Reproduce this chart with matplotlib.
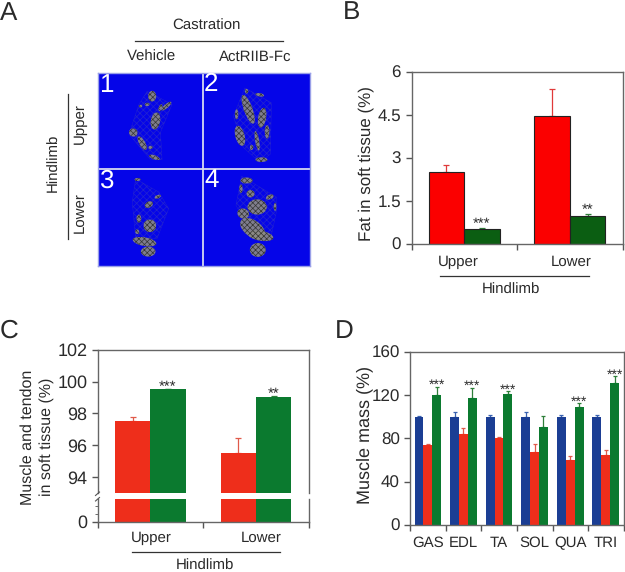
import matplotlib
matplotlib.use("Agg")
import matplotlib.pyplot as plt
from matplotlib.lines import Line2D
from matplotlib.patches import Ellipse, Polygon

plt.rcParams['font.family'] = ['Liberation Sans', 'DejaVu Sans']
plt.rcParams['hatch.linewidth'] = 0.5
plt.rcParams['text.hinting'] = 'no_hinting'
plt.rcParams['text.hinting_factor'] = 1

W, H = 625, 572
TXT = '#2a2a2a'
AX = '#555555'

# Panel B data
b_groups = ['Upper', 'Lower']
b_red = [2.5, 4.47]
b_red_err = [0.25, 0.95]
b_green = [0.5, 0.97]
b_green_err = [0.05, 0.08]
b_stars = ['***', '**']

# Panel C data
c_groups = ['Upper', 'Lower']
c_red = [97.5, 95.5]
c_red_err = [0.25, 0.95]
c_green = [99.5, 99.03]
c_green_err = [0.04, 0.06]
c_stars = ['***', '**']
c_yticks = [94, 96, 98, 100, 102]

# Panel D data
d_groups = ['GAS', 'EDL', 'TA', 'SOL', 'QUA', 'TRI']
d_blue = [100, 100, 100, 100, 100, 100]
d_blue_err = [0.5, 4.5, 1.5, 4, 1.5, 2]
d_red = [74, 84, 80, 67, 60, 65]
d_red_err = [1, 5.5, 1, 7.5, 4, 4]
d_green = [120.5, 117, 121.5, 90.5, 109, 131]
d_green_err = [7.5, 10, 2, 10.5, 3.5, 6.5]
d_stars = ['***', '***', '***', '', '***', '***']


def axpx(l, t, r, b):
    return fig.add_axes([l / W, 1 - b / H, (r - l) / W, (b - t) / H])


def T(x, y, s, size=11, **kw):
    kw.setdefault('ha', 'center')
    kw.setdefault('va', 'center')
    kw.setdefault('color', TXT)
    fig.text(x / W, 1 - y / H, s, fontsize=size, **kw)


def L(x0, y0, x1, y1, color='#333333', lw=0.9):
    fig.add_artist(Line2D([x0 / W, x1 / W], [1 - y0 / H, 1 - y1 / H], color=color, lw=lw))


def style(ax, spine='#666666'):
    for s in ax.spines.values():
        s.set_color(spine)
        s.set_linewidth(1.0)
    ax.tick_params(axis='both', color=AX, width=1.0, labelcolor=TXT)


def err(ax, x, y, e, color, cap=2.2):
    ax.errorbar(x, y, yerr=[[0] * len(y), e], fmt='none', ecolor=color, elinewidth=0.9,
                capsize=cap, capthick=0.9, zorder=1.5)


fig = plt.figure(figsize=(W / 100, H / 100), dpi=100, facecolor='white')

# Panel letters
T(9, 13, 'A', 19)
T(352, 12, 'B', 19)
T(9, 331, 'C', 19)
T(344, 331, 'D', 19)

# Panel A
axA = axpx(97.5, 73, 309.5, 265.5)
axA.set_xlim(0, 640)
axA.set_ylim(582, 0)
axA.set_facecolor('#0505e8')
axA.set_xticks([])
axA.set_yticks([])
for s in axA.spines.values():
    s.set_color('#9aa0e8')
    s.set_linewidth(1.0)
axA.axvline(319, color='#d5d8f0', lw=1.3)
axA.axhline(291, color='#d5d8f0', lw=1.3)

outlines = [
    [(150, 55), (225, 95), (190, 180), (195, 262), (160, 262), (95, 185), (125, 95)],
    [(445, 45), (525, 90), (522, 245), (490, 270), (440, 225), (410, 130)],
    [(115, 320), (185, 360), (215, 410), (180, 500), (115, 500), (105, 390)],
    [(435, 312), (540, 375), (540, 420), (525, 490), (440, 440), (418, 400)],
]
for poly in outlines:
    axA.add_patch(Polygon(poly, closed=True, fill=False, edgecolor='#6a6c98', hatch='xxxxx', lw=0.3, alpha=0.3))

blobs = [
    (165, 70, 24, 32, 0), (208, 100, 38, 12, -40), (175, 145, 28, 52, 10), (108, 180, 26, 24, 30),
    (135, 212, 18, 46, -30), (172, 255, 34, 12, 20), (150, 95, 14, 10, 0), (130, 100, 10, 8, 0),
    (160, 225, 12, 10, 0), (190, 105, 10, 22, 20),
    (455, 110, 26, 92, -20), (497, 135, 24, 60, 10), (430, 190, 28, 62, -15), (482, 205, 12, 60, -10),
    (495, 262, 36, 14, 0), (512, 178, 14, 40, 0), (490, 66, 26, 10, 10), (420, 125, 10, 30, 0),
    (450, 55, 10, 14, 0), (465, 225, 10, 16, 0),
    (121, 322, 18, 9, 0), (155, 398, 26, 18, -30), (182, 374, 20, 10, -20), (158, 462, 38, 38, 30),
    (142, 510, 72, 26, 10), (153, 540, 44, 30, 0), (125, 440, 14, 24, 0), (120, 480, 12, 14, 0),
    (450, 325, 36, 18, 0), (482, 405, 58, 46, 0), (440, 425, 36, 30, 20), (468, 470, 84, 50, 35),
    (492, 492, 78, 30, 10), (484, 535, 48, 42, 0), (520, 375, 24, 14, -20), (462, 365, 24, 22, 0),
    (433, 350, 10, 26, 0), (536, 405, 8, 24, 0),
]
for cx, cy, w, h, ang in blobs:
    axA.add_patch(Ellipse((cx, cy), w, h, angle=ang, facecolor='#8d8b84', edgecolor='#2e2e2a',
                          hatch='xxxxxx', lw=0, alpha=0.9))
for x, y, s in [(27, 36, '1'), (342, 34, '2'), (27, 327, '3'), (344, 325, '4')]:
    axA.text(x, y, s, color='white', fontsize=19, ha='center', va='center')

T(206, 26, 'Castration', 11)
L(135, 41, 283, 41)
T(152, 57, 'Vehicle', 11)
T(255, 57, 'ActRIIB-Fc', 11)
T(54, 163, 'Hindlimb', 11, rotation=90)
L(67.5, 94, 67.5, 239)
T(80, 124, 'Upper', 11, rotation=90)
T(80, 213, 'Lower', 11, rotation=90)

# Panel B
axB = axpx(411.5, 72, 623, 243.7)
style(axB)
axB.set_xlim(0, 2)
axB.set_ylim(0, 6)
xr = [i + 0.33 for i in range(2)]
xg = [i + 0.665 for i in range(2)]
err(axB, xr, b_red, b_red_err, '#e03a3a')
err(axB, xg, b_green, b_green_err, '#2f7f3a')
axB.bar(xr, b_red, 0.335, color='#fb0000', edgecolor='#222222', lw=0.8, zorder=2)
axB.bar(xg, b_green, 0.335, color='#0b5e12', edgecolor='#222222', lw=0.8, zorder=2)
for x, y, e, s in zip(xg, b_green, b_green_err, b_stars):
    axB.text(x, y + e + 0.12, s, ha='center', va='center', fontsize=10.5, color=TXT)
axB.set_yticks([0, 1.5, 3, 4.5, 6])
axB.set_yticklabels(['0', '1.5', '3', '4.5', '6'], fontsize=12.5)
axB.set_xticks([0, 1, 2])
axB.set_xticklabels([])
axB.tick_params(axis='both', length=4)
T(366, 164, 'Fat in soft tissue (%)', 12, rotation=90)
T(458, 262, b_groups[0], 11)
T(571, 262, b_groups[1], 11)
L(440, 276, 589, 276)
T(511, 290, 'Hindlimb', 11)

# Panel C
axC1 = axpx(97.7, 349.7, 309, 493.3)
axC2 = axpx(97.7, 498.7, 309, 521.7)
for ax in (axC1, axC2):
    style(ax)
    ax.set_xlim(0, 2)
    ax.tick_params(axis='both', length=4)
    ax.bar(xr, c_red, 0.335, color='#ee2e1b', zorder=2)
    ax.bar(xg, c_green, 0.335, color='#0b7a2f', zorder=2)
axC1.set_ylim(92.97, 102)
axC2.set_ylim(0, 1.45)
err(axC1, xr, c_red, c_red_err, '#e05a4a')
err(axC1, xg, c_green, c_green_err, '#2f7f3a')
for x, y, e, s in zip(xg, c_green, c_green_err, c_stars):
    axC1.text(x, y + e + 0.12, s, ha='center', va='center', fontsize=10.5, color=TXT)
axC1.spines['bottom'].set_visible(False)
axC2.spines['top'].set_visible(False)
axC1.set_xticks([])
axC1.set_yticks(c_yticks)
axC1.set_yticklabels([str(v) for v in c_yticks], fontsize=13)
axC2.set_yticks([0])
axC2.set_yticklabels(['0'], fontsize=13)
axC2.set_yticks([0.5, 1.0], minor=True)
axC2.tick_params(axis='y', which='minor', length=2, color=AX)
axC2.set_xticks([0, 1, 2])
axC2.set_xticklabels([])
L(95.5, 495.5, 99.5, 492, '#555555', 0.8)
L(95.5, 501, 99.5, 497.5, '#555555', 0.8)
T(28, 437, 'Muscle and tendon', 11.5, rotation=90)
T(47, 437, 'in soft tissue (%)', 11.5, rotation=90)
T(151, 538, c_groups[0], 11)
T(261, 538, c_groups[1], 11)
L(132, 552, 280, 552)
T(205, 566, 'Hindlimb', 11)

# Panel D
axD = axpx(410.3, 352, 623.7, 524.7)
style(axD)
axD.set_xlim(0, 6)
axD.set_ylim(0, 160)
w = 0.25
xc = [i + 0.495 for i in range(6)]
xb = [x - w for x in xc]
xm = xc
xh = [x + w for x in xc]
err(axD, xb, d_blue, d_blue_err, '#3a62b0', 1.6)
err(axD, xm, d_red, d_red_err, '#e05a4a', 1.6)
err(axD, xh, d_green, d_green_err, '#2f7f3a', 1.6)
axD.bar(xb, d_blue, w, color='#1b3e94', zorder=2)
axD.bar(xm, d_red, w, color='#ee2e1b', zorder=2)
axD.bar(xh, d_green, w, color='#0b7a2f', zorder=2)
for x, y, e, s in zip(xh, d_green, d_green_err, d_stars):
    if s:
        axD.text(x, y + e + 1, s, ha='center', va='center', fontsize=10, color=TXT)
axD.set_yticks([0, 40, 80, 120, 160])
axD.set_yticklabels(['0', '40', '80', '120', '160'], fontsize=12)
axD.set_xticks(range(7))
axD.set_xticklabels([])
axD.tick_params(axis='both', length=4)
for x, s in zip(xc, d_groups):
    axD.annotate(s, (x, 0), xytext=(0, -13.5), textcoords='offset points', ha='center', va='center',
                 fontsize=11, color=TXT, annotation_clip=False)
T(365, 435, 'Muscle mass (%)', 13, rotation=90)

fig.savefig('out.png', dpi=100, facecolor='white')
